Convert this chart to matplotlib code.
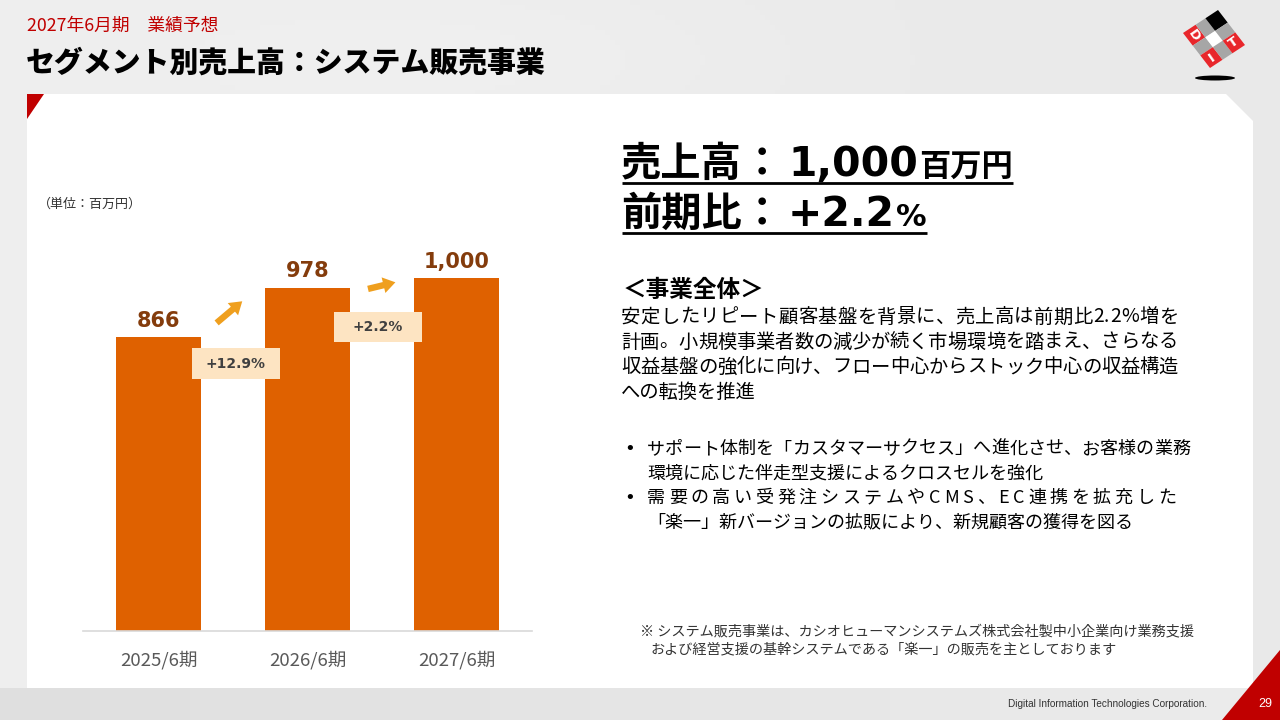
import matplotlib
matplotlib.use('Agg')
import matplotlib.pyplot as plt
from matplotlib.patches import Polygon, Rectangle, Ellipse
import numpy as np

# ---------------- data ----------------
categories = ['2025/6期', '2026/6期', '2027/6期']
sales = [866, 978, 1000]
growth_labels = ['+12.9%', '+2.2%']

header_sub = '2027年6月期　業績予想'
header_title = 'セグメント別売上高：システム販売事業'
unit_label = '（単位：百万円）'
headline_sales = ['売上高', '：', '1,000', '百万円']
headline_growth = ['前期比', '：', '+2.2', '%']
section_title = '＜事業全体＞'
paragraph_lines = [
    '安定したリピート顧客基盤を背景に、売上高は前期比2.2%増を',
    '計画。小規模事業者数の減少が続く市場環境を踏まえ、さらなる',
    '収益基盤の強化に向け、フロー中心からストック中心の収益構造',
    'への転換を推進',
]
bullet_items = [
    ['サポート体制を「カスタマーサクセス」へ進化させ、お客様の業務',
     '環境に応じた伴走型支援によるクロスセルを強化'],
    ['需要の高い受発注システムやCMS、EC連携を拡充した',
     '「楽一」新バージョンの拡販により、新規顧客の獲得を図る'],
]
footnote_lines = [
    '※ システム販売事業は、カシオヒューマンシステムズ株式会社製中小企業向け業務支援',
    'および経営支援の基幹システムである「楽一」の販売を主としております',
]
corp_name = 'Digital Information Technologies Corporation.'
page_no = '29'

# ---------------- style ----------------
JP = ['Noto Sans CJK JP', 'DejaVu Sans']
LAT = ['DejaVu Sans', 'Noto Sans CJK JP']
RED = '#C00000'
BAR = '#DF6100'
W, H = 1280, 720

fig = plt.figure(figsize=(12.8, 7.2), dpi=100)
bg = fig.add_axes([0, 0, 1, 1])
bg.set_xlim(0, W)
bg.set_ylim(H, 0)
bg.axis('off')
renderer = fig.canvas.get_renderer()

# background gradient
xx = np.linspace(0, 1, 256)
yy = np.linspace(0, 1, 144)
X, Y = np.meshgrid(xx, yy)
val = 0.935 - 0.02 * X + 0.012 * np.exp(-((X - 0.35) ** 2) / 0.05 - ((Y - 0.08) ** 2) / 0.01)
img = np.dstack([val, val, val])
bg.imshow(img, extent=[0, W, H, 0], aspect='auto', zorder=0)
bstrip = np.linspace(0.875, 0.925, 256)[None, :].repeat(4, axis=0)
bg.imshow(np.dstack([bstrip] * 3), extent=[0, W, H, 688], aspect='auto', zorder=0.5)

# white panel and red corners
bg.add_patch(Polygon([(27, 94), (1226, 94), (1253, 121), (1253, 688), (27, 688)],
                     closed=True, fc='white', ec='none', zorder=1))
bg.add_patch(Polygon([(27, 94), (44, 94), (27, 119)], closed=True, fc=RED, ec='none', zorder=2))
bg.add_patch(Polygon([(1222, 720), (1280, 650), (1280, 720)], closed=True, fc=RED, ec='none', zorder=2))

# header
bg.text(27, 26, header_sub, fontsize=12.8, color=RED, family=JP, va='center', ha='left', zorder=3)
bg.text(26, 63, header_title, fontsize=20.8, color='black', family=JP, fontweight='heavy',
        va='center', ha='left', zorder=3)

# logo
L = np.array([1183, 33.0]); T = np.array([1218, 10.0]); B = np.array([1210, 68.0])
def P(u, v):
    return L + u * (T - L) + v * (B - L)
def cell(u0, u1, v0, v1, c):
    bg.add_patch(Polygon([P(u0, v0), P(u1, v0), P(u1, v1), P(u0, v1)], closed=True,
                         fc=c, ec='none', zorder=4))
edges = [0, 0.36, 0.64, 1]
for i in range(3):
    for j in range(3):
        if i == 1 and j == 1:
            c = 'white'
        elif i == 1 or j == 1:
            c = '#A6A6A6'
        elif i == 2 and j == 0:
            c = 'black'
        else:
            c = '#E8262B'
        cell(edges[i], edges[i + 1], edges[j], edges[j + 1], c)
bg.add_patch(Ellipse((1215, 78), 40, 5, fc='black', ec='none', zorder=3))
for (u, v, s, rot) in [(0.18, 0.18, 'D', -55), (0.18, 0.82, 'I', 35), (0.82, 0.82, 'T', 35)]:
    px, py = P(u, v)
    bg.text(px, py, s, fontsize=9.5, color='white', fontweight='bold', family=LAT,
            ha='center', va='center', rotation=rot, zorder=5)

# unit label
bg.text(38, 204, unit_label, fontsize=9.4, color='#333333', family=JP, va='center', ha='left', zorder=3)

# ---------------- chart ----------------
ax = fig.add_axes([83 / W, (H - 631) / H, 449 / W, 512 / H])
ax.patch.set_alpha(0)
x = np.arange(len(categories))
ax.bar(x, sales, width=0.57, color=BAR, zorder=2)
ax.set_xlim(-0.507, 2.507)
ax.set_ylim(200, 1360)
for i, v in enumerate(sales):
    ax.annotate(f'{v:,}', (i, v), xytext=(0, 4.5), textcoords='offset points',
                ha='center', va='bottom', fontsize=15, fontweight='bold',
                color='#843C0C', family=LAT)
ax.set_xticks(x)
ax.set_xticklabels(categories, fontsize=13.4, color='#595959', family=JP)
ax.tick_params(axis='x', length=0, pad=14)
ax.set_yticks([])
for s in ['left', 'top', 'right']:
    ax.spines[s].set_visible(False)
ax.spines['bottom'].set_color('#D9D9D9')
ax.spines['bottom'].set_linewidth(1.2)

# growth boxes and arrows (layout positions)
box_centers = [(0.52, 806), (1.473, 889)]
arrow_paths = [((0.39, 898), (0.562, 947)), ((1.406, 975), (1.59, 990))]
for (cx, cy), lab in zip(box_centers, growth_labels):
    ax.add_patch(Rectangle((cx - 0.296, cy - 34.5), 0.592, 69, fc='#FDE4C2', ec='none', zorder=3))
    ax.text(cx, cy, lab, ha='center', va='center', fontsize=10, fontweight='bold',
            color='#404040', family=LAT, zorder=4)
for tail, tip in arrow_paths:
    ax.annotate('', xy=tip, xytext=tail,
                arrowprops=dict(arrowstyle='simple,head_length=0.8,head_width=1.05,tail_width=0.42',
                                mutation_scale=11, color='#EF9F1E', lw=0, shrinkA=0, shrinkB=0),
                zorder=4)

# ---------------- right text ----------------
def draw_segments(x0, y0, segs):
    cur = x0
    for txt, size, fam, gap in segs:
        t = bg.text(cur, y0, txt, fontsize=size, family=fam, fontweight='bold',
                    va='baseline', ha='left', color='black', zorder=3)
        bb = t.get_window_extent(renderer)
        cur += bb.width + gap
    return cur

def draw_justified(x0, y0, line, target, size, color='black'):
    widths = []
    for ch in line:
        t = bg.text(0, 0, ch, fontsize=size, family=JP)
        widths.append(t.get_window_extent(renderer).width)
        t.remove()
    extra = (target - x0 - sum(widths)) / max(len(line) - 1, 1)
    cur = x0
    for ch, w in zip(line, widths):
        bg.text(cur, y0, ch, fontsize=size, family=JP, va='center', ha='left', color=color, zorder=3)
        cur += w + extra

end1 = draw_segments(621, 176, [(headline_sales[0], 29, JP, 0), (headline_sales[1], 29, JP, 6),
                                (headline_sales[2], 29.5, LAT, 1), (headline_sales[3], 22.5, JP, 0)])
bg.plot([622, end1], [182.5, 182.5], color='black', lw=2, zorder=3, solid_capstyle='butt')
end2 = draw_segments(621, 226, [(headline_growth[0], 29, JP, 0), (headline_growth[1], 29, JP, 6),
                                (headline_growth[2], 29.5, LAT, 1), (headline_growth[3], 22, LAT, 0)])
bg.plot([622, end2], [232.5, 232.5], color='black', lw=2, zorder=3, solid_capstyle='butt')

bg.text(623, 290, section_title, fontsize=17, fontweight='bold', family=JP,
        va='center', ha='left', color='black', zorder=3)
for k, line in enumerate(paragraph_lines):
    yk = 317 + 25 * k
    if k < len(paragraph_lines) - 1:
        draw_justified(621, yk, line, 1178, 13.9)
    else:
        bg.text(621, yk, line, fontsize=13.9, family=JP, va='center', ha='left',
                color='black', zorder=3)

by = 449
for item in bullet_items:
    bg.text(624, by, '•', fontsize=13, family=LAT, va='center', ha='left', color='black', zorder=3)
    for n, line in enumerate(item):
        if n == 0:
            draw_justified(647, by, line, 1190 if by < 460 else 1176, 13)
        else:
            bg.text(647, by, line, fontsize=13, family=JP, va='center', ha='left',
                    color='black', zorder=3)
        by += 24.5

bg.text(640, 631, footnote_lines[0], fontsize=10.2, family=JP, va='center', ha='left',
        color='#333333', zorder=3)
bg.text(651, 649, footnote_lines[1], fontsize=10.2, family=JP, va='center', ha='left',
        color='#333333', zorder=3)

bg.text(1207, 704, corp_name, fontsize=7.2, family=['Liberation Sans', 'DejaVu Sans'],
        va='center', ha='right', color='#333333', zorder=3)
bg.text(1265, 704, page_no, fontsize=9, family=['Liberation Sans', 'DejaVu Sans'],
        va='center', ha='center', color='white', zorder=3)

fig.savefig('out.png', dpi=100)
